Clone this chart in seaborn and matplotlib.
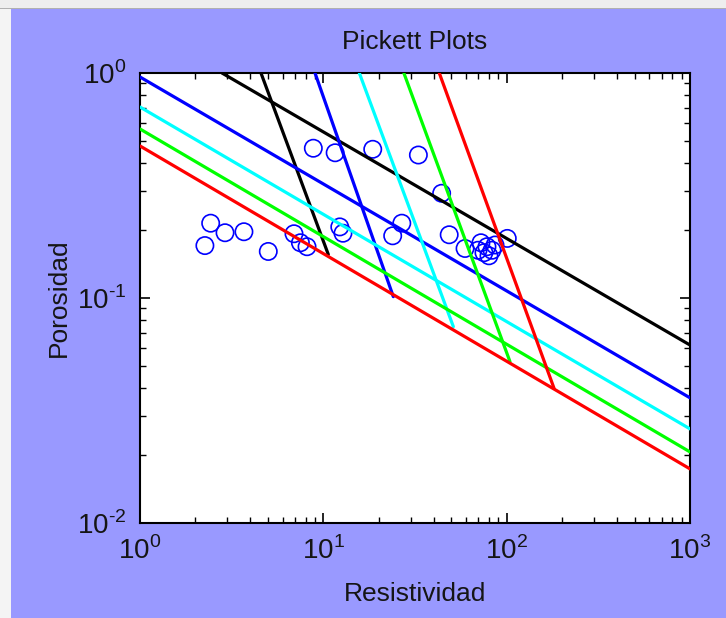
import matplotlib
matplotlib.use("Agg")
import numpy as np
import matplotlib.pyplot as plt
from matplotlib.patches import Rectangle
from matplotlib.ticker import FuncFormatter, LogLocator
import seaborn as sns

# well readings (resistivity, porosity)
rt_points = [2.26, 2.43, 2.91, 3.69, 5.01, 6.92, 7.5, 8.15,
             8.82, 11.6, 18.6, 33.0, 12.3, 12.8, 26.8, 23.9,
             44.2, 48.6, 59.3, 100.8, 72.4, 78.1, 75.2, 83.2,
             80.1, 86.4, 69.8]
phi_points = [0.171, 0.215, 0.195, 0.197, 0.161, 0.193, 0.176, 0.169,
              0.463, 0.442, 0.458, 0.432, 0.207, 0.194, 0.215, 0.189,
              0.292, 0.191, 0.166, 0.184, 0.176, 0.169, 0.159, 0.163,
              0.154, 0.172, 0.163]

line_colors = ['black', 'blue', 'cyan', 'lime', 'red']

# shallow lines (constant saturation)
sw_rt_start = [2.80, 1, 1, 1, 1]
sw_phi_start = [1.0, 0.96, 0.706, 0.564, 0.474]
sw_rt_end = [1000, 1000, 1000, 1000, 1000]
sw_phi_end = [0.0618, 0.036, 0.0262, 0.0207, 0.0174]

# steep lines, from porosity 1 down to the red line
st_rt_top = [4.57, 9.01, 15.72, 27.5, 42.9]
st_rt_bottom = [10.65, 24.09, 51.2, 104.3, 181.3]
st_phi_bottom = [0.156, 0.1014, 0.0746, 0.0521, 0.0397]

sns.set_style("ticks")
plt.rcParams['font.family'] = ['Liberation Sans', 'DejaVu Sans']
plt.rcParams['mathtext.fontset'] = 'custom'
plt.rcParams['mathtext.rm'] = 'Liberation Sans'
plt.rcParams['axes.unicode_minus'] = False

bg = '#9999ff'
txt = '#151515'
fig = plt.figure(figsize=(7.26, 6.18), dpi=100, facecolor=bg)
ax = fig.add_axes([0.1928, 0.1537, 0.7576, 0.7282])
ax.set_facecolor('white')

# window chrome around the figure
fig.patches.append(Rectangle((0, 1 - 9 / 618), 1, 9 / 618, transform=fig.transFigure,
                             facecolor='#eeeeee', edgecolor='none', zorder=0))
fig.patches.append(Rectangle((0, 1 - 9 / 618), 1, 1.5 / 618, transform=fig.transFigure,
                             facecolor='#b0b0b0', edgecolor='none', zorder=0))
fig.patches.append(Rectangle((0, 0), 11 / 726, 1 - 9 / 618, transform=fig.transFigure,
                             facecolor='#f4f4f4', edgecolor='none', zorder=0))

ax.set_xscale('log')
ax.set_yscale('log')

sns.scatterplot(x=rt_points, y=phi_points, marker='o', s=155,
                facecolors='none', edgecolor='blue', linewidth=1.2,
                ax=ax, zorder=2)
for coll in ax.collections:
    coll.set_facecolor('none')
    coll.set_edgecolor('blue')

for i, c in enumerate(line_colors):
    sns.lineplot(x=[sw_rt_start[i], sw_rt_end[i]],
                 y=[sw_phi_start[i], sw_phi_end[i]],
                 color=c, linewidth=2.3, sort=False, estimator=None, ax=ax, zorder=3)
    sns.lineplot(x=[st_rt_top[i], st_rt_bottom[i]],
                 y=[1.0, st_phi_bottom[i]],
                 color=c, linewidth=2.3, sort=False, estimator=None, ax=ax, zorder=3)

ax.set_xlim(1, 1000)
ax.set_ylim(0.01, 1)


def decade_label(v, pos):
    e = int(round(np.log10(v)))
    if e < 0:
        return r'$10^{\text{-}%d}$' % abs(e)
    return r'$10^{%d}$' % e


for axis in (ax.xaxis, ax.yaxis):
    axis.set_major_locator(LogLocator(base=10))
    axis.set_major_formatter(FuncFormatter(decade_label))

for side in ax.spines.values():
    side.set_linewidth(1.5)
    side.set_color('black')
ax.tick_params(which='both', direction='in', top=True, right=True, colors='black',
               labelsize=20, labelcolor=txt)
ax.tick_params(which='major', length=7, width=1.2, pad=10)
ax.tick_params(which='minor', length=4, width=1.0)

ax.set_title('Pickett Plots', fontsize=19, color=txt, pad=17)
ax.set_xlabel('Resistividad', fontsize=19, color=txt, labelpad=12)
ax.set_ylabel('Porosidad', fontsize=19, color=txt, labelpad=4)

fig.savefig('out.png', dpi=100, facecolor=bg)
